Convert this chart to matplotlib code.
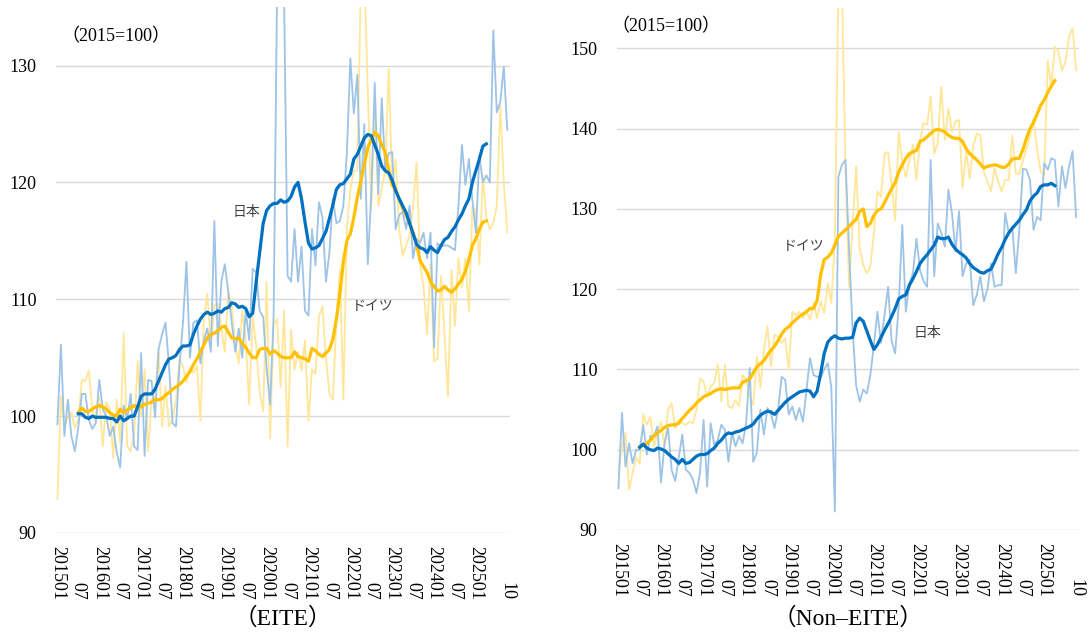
import numpy as np
import pandas as pd
import matplotlib
matplotlib.use("Agg")
import matplotlib.pyplot as plt

plt.rcParams['font.family'] = ['Liberation Serif', 'Noto Sans CJK JP']

# 月次データ 2015年1月～2025年10月 (2015=100)
months = pd.period_range("2015-01", "2025-10", freq="M")
nan = np.nan

# EITE: 日本（月次）
eite_jp = [99.3, 106.1, 98.3, 101.4, 98.3, 97.0, 99.1, 101.9, 101.9, 99.7,
           98.9, 99.4, 103.1, 100.6, 100.0, 98.3, 99.1, 96.9, 95.6, 100.9,
           99.7, 101.9, 97.4, 97.1, 105.4, 96.6, 103.1, 103.0, 99.9, 105.7,
           107.0, 108.0, 104.3, 99.4, 99.1, 104.3, 108.0, 113.2, 105.0, 108.0,
           108.2, 104.5, 106.5, 107.5, 105.5, 116.7, 106.0, 111.5, 113.0, 110.6,
           108.0, 105.5, 107.5, 105.0, 109.0, 106.5, 112.6, 112.3, 109.0, 108.5,
           104.0, 101.0, 108.6, 137.0, 138.0, 136.0, 112.0, 111.5, 116.0, 111.5,
           114.5, 109.0, 108.6, 116.0, 112.9, 118.3, 117.0, 111.5, 114.0, 118.6,
           116.5, 116.7, 118.0, 122.5, 130.6, 125.9, 129.2, 118.6, 125.0, 113.0,
           119.0, 128.5, 119.0, 127.2, 121.0, 122.5, 122.6, 116.0, 117.2, 117.5,
           116.0, 118.0, 113.5, 115.2, 114.8, 115.7, 113.5, 115.7, 105.9, 114.8,
           114.5, 114.6, 114.6, 114.4, 114.2, 118.0, 123.2, 119.8, 122.0, 118.5,
           115.7, 122.3, 120.0, 120.6, 120.0, 133.0, 126.0, 126.9, 129.9, 124.5]

# EITE: ドイツ（月次）
eite_de = [92.9, 101.7, 99.1, 99.9, 100.3, 99.0, 99.7, 103.1, 103.0, 103.9,
           100.6, 99.4, 101.7, 97.4, 101.2, 100.6, 96.4, 101.4, 97.7, 107.1,
           97.4, 97.0, 98.5, 104.7, 100.0, 104.0, 97.0, 101.4, 101.7, 105.7,
           99.1, 102.6, 99.1, 99.7, 101.4, 104.9, 104.3, 102.9, 104.1, 103.7,
           104.3, 99.6, 108.3, 110.5, 106.0, 109.5, 109.6, 107.5, 105.5, 110.7,
           109.3, 106.0, 104.5, 109.0, 106.5, 101.0, 108.5, 106.0, 102.0, 100.4,
           111.5, 98.1, 107.8, 108.3, 102.5, 109.0, 97.4, 107.4, 104.0, 105.5,
           103.9, 106.5, 99.6, 104.0, 103.6, 108.5, 109.4, 105.0, 101.9, 101.4,
           108.3, 112.5, 101.4, 116.0, 119.5, 121.0, 121.0, 137.0, 138.0, 128.0,
           117.7, 126.9, 118.0, 119.5, 121.0, 129.7, 119.7, 122.0, 116.0, 113.7,
           114.6, 115.5, 118.0, 121.7, 113.0, 111.0, 107.0, 113.0, 104.7, 104.9,
           112.0, 107.0, 101.7, 112.5, 107.7, 113.5, 111.0, 113.5, 109.0, 118.0,
           117.5, 113.0, 120.6, 117.0, 116.0, 116.5, 118.0, 126.6, 120.0, 115.7]

# EITE: 移動平均（2015年7月～2025年4月）
eite_jp_ma = [100.2, 100.2, 99.9, 99.8, 100.0, 99.9, 99.9, 99.9, 99.9, 99.8,
              99.8, 99.5, 100.0, 99.6, 99.8, 100.0, 100.0, 100.8, 101.7, 101.9,
              101.9, 101.9, 102.3, 103.0, 103.7, 104.4, 104.9, 105.0, 105.2, 105.7,
              106.0, 106.0, 106.1, 107.0, 107.7, 108.3, 108.7, 108.9, 108.7, 108.8,
              109.0, 108.9, 109.2, 109.3, 109.7, 109.6, 109.3, 109.4, 109.2, 108.5,
              108.8, 111.5, 114.0, 116.5, 117.6, 118.0, 118.2, 118.2, 118.5, 118.3,
              118.4, 118.8, 119.6, 120.0, 118.6, 116.6, 114.8, 114.3, 114.4, 114.6,
              115.2, 115.8, 116.9, 118.1, 119.4, 119.8, 119.9, 120.3, 120.7, 122.0,
              122.4, 123.1, 123.8, 124.1, 124.0, 123.2, 122.4, 121.4, 121.0, 120.8,
              120.2, 119.3, 118.6, 118.0, 117.4, 116.5, 115.6, 114.7, 114.4, 114.3,
              114.0, 114.5, 114.2, 114.0, 114.6, 115.1, 115.3, 115.8, 116.2, 116.8,
              117.3, 118.0, 118.6, 120.0, 121.0, 122.0, 123.1, 123.3]

eite_de_ma = [100.3, 100.7, 100.4, 100.4, 100.6, 100.8, 100.9, 100.8, 100.6, 100.3,
              100.1, 100.0, 100.6, 100.3, 100.5, 100.7, 100.9, 100.8, 100.8, 101.0,
              101.1, 101.2, 101.4, 101.4, 101.5, 101.8, 102.0, 102.3, 102.5, 102.7,
              103.0, 103.4, 103.8, 104.4, 104.9, 105.5, 106.1, 106.7, 107.0, 107.1,
              107.3, 107.6, 107.7, 107.2, 106.7, 106.6, 106.7, 106.2, 105.9, 105.4,
              105.0, 105.0, 105.7, 105.8, 105.8, 105.3, 105.6, 105.4, 105.1, 105.0,
              105.0, 105.0, 105.5, 105.1, 105.0, 104.9, 104.7, 105.8, 105.6, 105.3,
              105.1, 105.4, 105.7, 106.6, 108.3, 110.5, 113.2, 115.0, 115.6, 117.0,
              118.7, 120.1, 121.5, 123.0, 123.6, 124.3, 124.0, 123.2, 122.6, 121.0,
              119.8, 119.3, 118.6, 117.8, 117.2, 116.5, 115.7, 114.7, 113.3, 112.8,
              112.3, 111.5, 111.1, 110.7, 110.8, 111.1, 110.8, 110.6, 110.9, 111.3,
              111.7, 112.4, 113.4, 114.6, 115.2, 116.0, 116.6, 116.7]

# Non-EITE: 日本（月次）
non_jp = [95.2, 104.6, 97.9, 100.8, 98.3, 100.0, 100.0, 103.1, 99.4, 101.7,
          101.7, 102.9, 95.9, 100.8, 102.7, 97.5, 96.1, 99.0, 101.9, 97.5,
          97.1, 96.3, 94.6, 97.1, 103.7, 95.4, 103.3, 100.6, 101.2, 103.1,
          102.5, 98.5, 102.1, 100.4, 101.7, 100.8, 103.3, 110.2, 98.5, 99.6,
          105.0, 101.9, 105.2, 104.4, 102.7, 105.0, 109.1, 108.7, 104.4, 105.4,
          103.7, 105.2, 103.5, 107.5, 111.4, 109.3, 109.1, 109.0, 110.0, 110.8,
          107.8, 92.3, 134.0, 135.5, 136.1, 125.0, 115.0, 108.0, 106.0, 107.5,
          107.0, 109.3, 113.0, 117.2, 113.3, 116.8, 120.3, 113.5, 112.0, 118.0,
          128.0, 117.2, 120.7, 122.0, 126.3, 122.4, 121.0, 120.3, 136.1, 121.6,
          128.2, 127.0, 125.3, 132.4, 129.5, 124.7, 129.7, 121.6, 123.2, 123.7,
          118.0, 119.3, 121.6, 118.5, 120.0, 123.2, 120.3, 120.5, 120.5, 129.5,
          127.0, 127.8, 122.0, 127.5, 135.0, 134.9, 133.6, 127.4, 129.0, 128.6,
          135.7, 134.9, 136.3, 136.1, 130.3, 135.3, 132.6, 135.3, 137.2, 129.0]

# Non-EITE: ドイツ（月次）
non_de = [97.1, 100.4, 102.1, 95.0, 97.1, 99.0, 98.3, 104.4, 103.1, 104.1,
          100.4, 102.1, 103.5, 100.4, 105.0, 105.8, 102.7, 103.7, 103.3, 103.1,
          103.5, 103.3, 105.0, 108.9, 108.5, 106.6, 107.9, 108.3, 110.6, 106.0,
          110.6, 105.4, 105.2, 106.2, 105.4, 109.3, 108.7, 106.6, 105.6, 111.6,
          107.7, 112.4, 115.4, 110.4, 114.3, 114.1, 113.3, 113.9, 110.0, 117.2,
          116.8, 117.2, 116.4, 117.2, 116.2, 118.3, 116.4, 118.5, 117.0, 120.7,
          118.3, 126.0, 158.0, 158.0, 135.0, 120.3, 128.0, 135.3, 125.1, 123.0,
          122.0, 122.8, 127.0, 132.2, 131.5, 136.9, 137.1, 133.0, 128.6, 139.6,
          135.7, 134.0, 136.0, 138.0, 133.6, 138.6, 140.7, 140.5, 144.0, 136.9,
          138.2, 145.2, 138.6, 142.5, 139.6, 140.9, 141.1, 132.6, 137.1, 133.8,
          137.8, 139.4, 139.2, 134.6, 133.4, 132.2, 135.1, 133.5, 132.2, 133.6,
          133.6, 139.2, 134.4, 134.4, 136.0, 137.5, 139.0, 141.3, 137.5, 134.6,
          134.2, 148.5, 145.2, 150.2, 149.6, 147.3, 148.3, 151.5, 152.5, 147.3]

non_jp_ma = [100.3, 100.7, 100.2, 100.0, 99.9, 100.2, 100.1, 99.9, 99.5, 99.1,
             98.8, 98.3, 98.8, 98.3, 98.4, 98.8, 99.2, 99.4, 99.4, 99.5,
             99.9, 100.2, 100.8, 101.2, 101.8, 102.1, 102.0, 102.2, 102.3, 102.5,
             102.7, 102.9, 103.2, 103.8, 104.3, 104.6, 104.8, 104.7, 104.4, 104.9,
             105.4, 105.9, 106.3, 106.6, 106.9, 107.2, 107.3, 107.4, 107.3, 106.6,
             107.3, 109.5, 112.0, 113.4, 113.9, 114.2, 113.9, 113.8, 113.9, 113.9,
             114.0, 115.8, 116.4, 116.0, 114.8, 113.6, 112.5, 113.1, 114.0, 114.9,
             115.7, 116.6, 117.6, 118.8, 119.1, 119.3, 120.5, 121.3, 122.2, 123.2,
             123.8, 124.3, 124.9, 125.5, 126.5, 126.3, 126.3, 126.5, 125.6, 125.0,
             124.6, 124.3, 123.9, 123.2, 122.7, 122.4, 122.1, 122.0, 122.3, 122.5,
             123.4, 124.4, 125.2, 126.2, 127.0, 127.6, 128.1, 128.6, 129.3, 129.9,
             131.0, 131.6, 132.0, 132.8, 133.0, 133.0, 133.2, 132.9]

non_de_ma = [100.4, 100.5, 100.8, 101.2, 101.7, 102.1, 102.4, 102.8, 103.0, 103.1,
             103.1, 103.3, 103.9, 104.4, 104.9, 105.3, 105.8, 106.2, 106.6, 106.8,
             107.0, 107.3, 107.5, 107.6, 107.5, 107.6, 107.7, 107.7, 107.7, 108.4,
             108.6, 108.8, 109.6, 110.3, 110.7, 111.1, 111.8, 112.4, 112.9, 113.6,
             114.4, 115.0, 115.3, 115.8, 116.2, 116.6, 116.9, 117.2, 117.6, 117.6,
             118.6, 121.8, 123.7, 124.0, 124.5, 125.5, 126.6, 127.0, 127.4, 127.8,
             128.3, 128.7, 129.7, 130.0, 127.8, 128.2, 129.2, 129.8, 130.0, 130.8,
             131.7, 132.5, 133.3, 134.6, 135.5, 136.3, 136.9, 137.1, 137.3, 138.4,
             138.6, 139.0, 139.4, 139.8, 139.9, 139.8, 139.6, 139.2, 138.9, 138.8,
             138.8, 138.4, 137.5, 136.9, 136.5, 136.1, 135.6, 135.1, 135.3, 135.4,
             135.5, 135.4, 135.2, 135.2, 135.6, 136.2, 136.3, 136.3, 137.4, 138.8,
             140.0, 140.8, 141.8, 142.9, 143.6, 144.5, 145.3, 146.0]

MA_START = 6  # 移動平均は2015年7月から

COL_JP = "#0070C0"
COL_JP_LIGHT = "#9DC3E6"
COL_DE = "#FFC000"
COL_DE_LIGHT = "#FFE699"


def pad_ma(values):
    """移動平均を月次の長さにそろえる"""
    out = [nan] * len(months)
    out[MA_START:MA_START + len(values)] = values
    return out


def tick_labels():
    """x軸ラベル: 1月は年月, 7月は月のみ, 最後は最終月だけ"""
    pos, labels = [], []
    last = len(months) - 1
    for i, p in enumerate(months):
        if last - i < 6:
            continue
        if p.month == 1:
            pos.append(i)
            labels.append(f"{p.year}{p.month:02d}")
        elif p.month == 7:
            pos.append(i)
            labels.append(f"{p.month:02d}")
    pos.append(last)
    labels.append(f"{months[-1].month:02d}")
    return pos, labels


def draw_panel(ax, jp, de, jp_ma, de_ma, ylim, yticks, title, lab_y, title_y):
    x = np.arange(len(months))
    assert len(jp) == len(de) == len(months)

    ax.plot(x, de, color=COL_DE_LIGHT, lw=1.3, zorder=2)
    ax.plot(x, jp, color=COL_JP_LIGHT, lw=1.3, zorder=2)
    ax.plot(x, pad_ma(de_ma), color=COL_DE, lw=2.3, zorder=3)
    ax.plot(x, pad_ma(jp_ma), color=COL_JP, lw=2.3, zorder=4)

    ax.set_xlim(-0.4, 129.8)
    ax.set_ylim(*ylim)
    ax.set_yticks(yticks)
    ax.yaxis.grid(True, color="#D9D9D9", lw=1.0)
    ax.set_axisbelow(True)
    for s in ax.spines.values():
        s.set_visible(False)
    ax.tick_params(axis="y", length=0, pad=14, labelsize=13)
    ax.set_xticks([])

    # x軸ラベル（縦書き、下端そろえ）
    pos, labels = tick_labels()
    for p, lab in zip(pos, labels):
        ax.text(p, lab_y, lab, rotation=270, ha="center", va="bottom",
                fontsize=13, transform=ax.get_xaxis_transform())

    ax.text(0.5, title_y, title, ha="center", va="center", fontsize=17,
            transform=ax.transAxes)


def main():
    fig = plt.figure(figsize=(10.88, 6.39), dpi=100)

    # 左: EITE
    ax1 = fig.add_axes([0.0515, 0.1659, 0.4173, 0.8230])
    draw_panel(ax1, eite_jp, eite_de, eite_jp_ma, eite_de_ma,
               (90, 135), [90, 100, 110, 120, 130], "（EITE）", -0.127, -0.163)
    ax1.text(0.011, 0.943, "（2015=100）", fontsize=13, ha="left", va="center",
             transform=ax1.transAxes)
    ax1.text(54.2, 117.5, "日本", fontsize=10, color="#404040",
             family="Noto Sans CJK JP", ha="center", va="center")
    ax1.text(90.3, 109.4, "ドイツ", fontsize=10, color="#404040",
             family="Noto Sans CJK JP", ha="center", va="center")

    # 右: Non-EITE
    ax2 = fig.add_axes([0.5671, 0.1706, 0.4246, 0.8164])
    draw_panel(ax2, non_jp, non_de, non_jp_ma, non_de_ma,
               (90, 155), [90, 100, 110, 120, 130, 140, 150], "（Non–EITE）",
               -0.128, -0.170)
    ax2.text(-0.013, 0.964, "（2015=100）", fontsize=13, ha="left", va="center",
             transform=ax2.transAxes)
    ax2.text(52.2, 125.4, "ドイツ", fontsize=10, color="#404040",
             family="Noto Sans CJK JP", ha="center", va="center")
    ax2.text(87.2, 114.6, "日本", fontsize=10, color="#404040",
             family="Noto Sans CJK JP", ha="center", va="center")

    fig.savefig("out.png", dpi=100)


if __name__ == "__main__":
    main()
